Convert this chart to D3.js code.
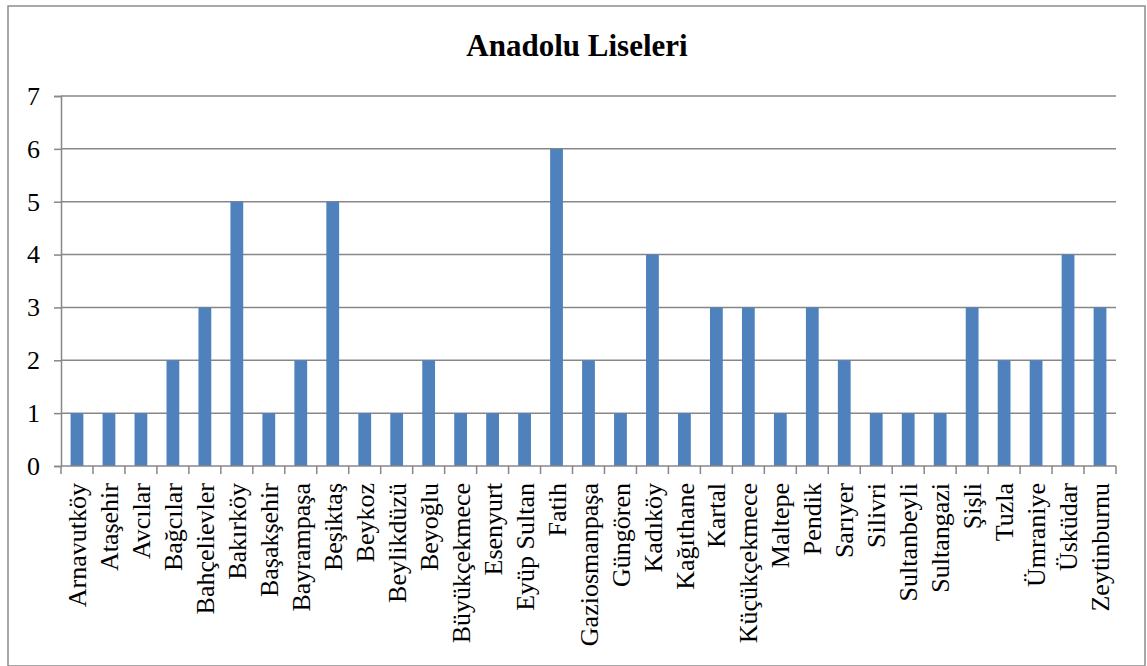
<!DOCTYPE html>
<meta charset="utf-8">
<script src="https://d3js.org/d3.v7.min.js"></script>
<style>
  body { margin: 0; background: #fff; }
</style>
<svg id="chart" width="1147" height="666"></svg>
<script>
// districts (ilçeler) and number of Anadolu Liseleri
const districts = ["Arnavutköy", "Ataşehir", "Avcılar", "Bağcılar", "Bahçelievler", "Bakırköy",
    "Başakşehir", "Bayrampaşa", "Beşiktaş", "Beykoz", "Beylikdüzü", "Beyoğlu", "Büyükçekmece",
    "Esenyurt", "Eyüp Sultan", "Fatih", "Gaziosmanpaşa", "Güngören", "Kadıköy", "Kağıthane",
    "Kartal", "Küçükçekmece", "Maltepe", "Pendik", "Sarıyer", "Silivri", "Sultanbeyli",
    "Sultangazi", "Şişli", "Tuzla", "Ümraniye", "Üsküdar", "Zeytinburnu"];
const counts = [1, 1, 1, 2, 3, 5, 1, 2, 5, 1, 1, 2, 1, 1, 1, 6, 2, 1, 4, 1, 3, 3, 1, 3, 2, 1, 1, 1, 3, 2, 2, 4, 3];
const yTicks = [0, 1, 2, 3, 4, 5, 6, 7];
const title = "Anadolu Liseleri";

const svg = d3.select("#chart");
const gridColor = "#878787";
const serif = "Liberation Serif, Times New Roman, DejaVu Serif, serif";

// outer chart border
svg.append("rect")
    .attr("x", 8).attr("y", 6)
    .attr("width", 1137).attr("height", 660)
    .attr("fill", "#fff")
    .attr("stroke", "#8c8c8c")
    .attr("stroke-width", 1.5);

const plotLeft = 61, plotRight = 1116, plotTop = 96, plotBottom = 466;

const x = d3.scaleBand()
    .domain(districts)
    .range([plotLeft, plotRight])
    .paddingInner(0.6)
    .paddingOuter(0.3);

const y = d3.scaleLinear()
    .domain([0, 7])
    .range([plotBottom, plotTop]);

// title
svg.append("text")
    .attr("x", 577)
    .attr("y", 56)
    .attr("text-anchor", "middle")
    .attr("font-family", serif)
    .attr("font-size", 31)
    .attr("font-weight", "bold")
    .attr("fill", "#000")
    .text(title);

// horizontal gridlines
svg.append("g")
    .selectAll("line")
    .data(yTicks.filter(d => d > 0))
    .join("line")
    .attr("x1", plotLeft).attr("x2", plotRight)
    .attr("y1", d => y(d)).attr("y2", d => y(d))
    .attr("stroke", gridColor)
    .attr("stroke-width", 1.5);

// bars
svg.append("g")
    .selectAll("rect")
    .data(counts)
    .join("rect")
    .attr("x", (d, i) => x(districts[i]))
    .attr("y", d => y(d))
    .attr("width", x.bandwidth())
    .attr("height", d => y(0) - y(d))
    .attr("fill", "#4f81bd");

// y axis
const yAxis = svg.append("g")
    .attr("transform", `translate(${plotLeft},0)`)
    .call(d3.axisLeft(y).tickValues(yTicks).tickSize(7).tickPadding(14).tickFormat(d3.format("d")))
    .attr("font-family", serif)
    .attr("font-size", 26);
yAxis.select(".domain").attr("stroke", gridColor).attr("stroke-width", 1.5);
yAxis.selectAll(".tick line").attr("stroke", gridColor).attr("stroke-width", 1.5);
yAxis.selectAll(".tick text").attr("fill", "#000");

// x axis line and category separators
const step = x.step();
const bounds = d3.range(districts.length + 1).map(i => plotLeft + i * step);
svg.append("line")
    .attr("x1", plotLeft).attr("x2", plotRight)
    .attr("y1", plotBottom).attr("y2", plotBottom)
    .attr("stroke", gridColor)
    .attr("stroke-width", 1.5);
svg.append("g")
    .selectAll("line")
    .data(bounds)
    .join("line")
    .attr("x1", d => d).attr("x2", d => d)
    .attr("y1", plotBottom).attr("y2", plotBottom + 8)
    .attr("stroke", gridColor)
    .attr("stroke-width", 1.5);

// rotated category labels
svg.append("g")
    .attr("font-family", serif)
    .attr("font-size", 26)
    .selectAll("text")
    .data(districts)
    .join("text")
    .attr("transform", d => `translate(${x(d) + x.bandwidth() / 2},${plotBottom + 17}) rotate(-90)`)
    .attr("dy", "0.35em")
    .attr("text-anchor", "end")
    .attr("fill", "#000")
    .text(d => d);
</script>
